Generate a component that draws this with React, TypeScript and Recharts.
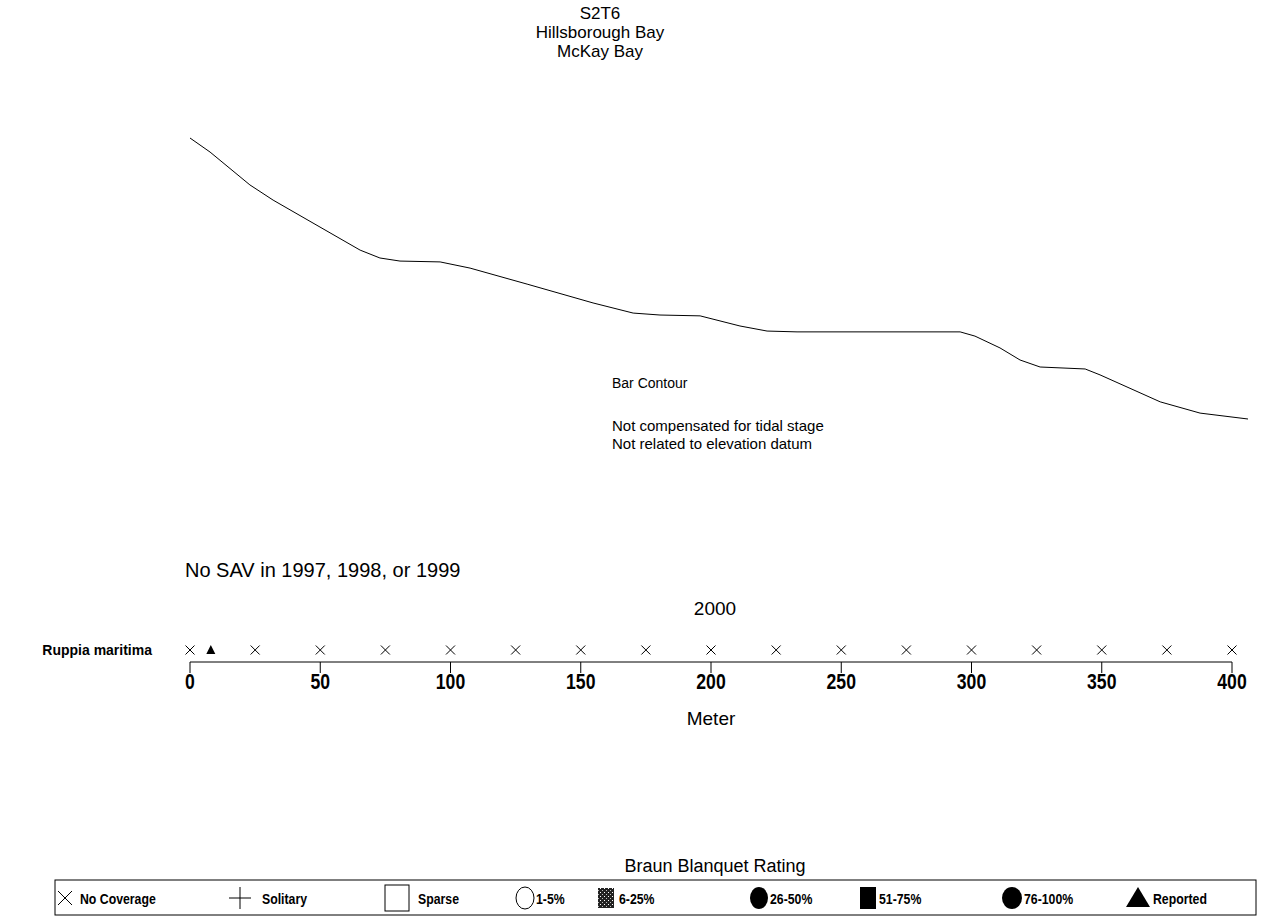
import React from 'react'
import { LineChart, Line, XAxis, YAxis, ScatterChart, Scatter } from 'recharts'

const FONT = '"Liberation Sans", Arial, Helvetica, sans-serif'

// Bar contour profile: distance along transect (m) and relative elevation
const CONTOUR_DIST = [0, 7.7, 23, 31.9, 49.9, 65.3, 72.9, 80.6, 96, 107.5, 129.4, 154.7, 170.1, 180.4, 195.8, 211.1, 221.5, 233, 295.6, 301.3, 310.9, 318.6, 326.3, 343.6, 349.3, 372.4, 387.7, 406.1]
const CONTOUR_ELEV = [0, -5, -16.7, -22.1, -31.7, -39.9, -42.7, -43.8, -44.1, -46.3, -52, -58.7, -62.3, -63, -63.3, -66.9, -68.7, -69, -69, -70.5, -74.7, -79, -81.5, -82.2, -84.3, -93.9, -97.9, -100]

// 2000 survey, Ruppia maritima
const SPECIES = 'Ruppia maritima'
const NO_COVERAGE_DIST = [0, 25, 50, 75, 100, 125, 150, 175, 200, 225, 250, 275, 300, 325, 350, 375, 400]
const REPORTED_DIST = [8]
const METER_TICKS = [0, 50, 100, 150, 200, 250, 300, 350, 400]

const TITLE_LINES = ['S2T6', 'Hillsborough Bay', 'McKay Bay']
const NOTE_LINES = ['Not compensated for tidal stage', 'Not related to elevation datum']
const LEGEND_LABELS = ['No Coverage', 'Solitary', 'Sparse', '1-5%', '6-25%', '26-50%', '51-75%', '76-100%', 'Reported']

// species row sits in the middle of a 0..1 band
const ROW_Y = 0.5

const contourData = CONTOUR_DIST.map((d, i) => ({ dist: d, elev: CONTOUR_ELEV[i] }))
const noCoverageData = NO_COVERAGE_DIST.map((d) => ({ dist: d, row: ROW_Y }))
const reportedData = REPORTED_DIST.map((d) => ({ dist: d, row: ROW_Y }))

function CrossMark(props: any) {
  const { cx, cy } = props
  const s = 4.5
  return (
    <path
      d={`M${cx - s},${cy - s}L${cx + s},${cy + s}M${cx - s},${cy + s}L${cx + s},${cy - s}`}
      stroke="#000"
      strokeWidth={1}
      fill="none"
    />
  )
}

function TriangleMark(props: any) {
  const { cx, cy } = props
  return <path d={`M${cx},${cy - 5}L${cx + 4.5},${cy + 4}L${cx - 4.5},${cy + 4}Z`} fill="#000" />
}

// condensed bold numbers under the meter axis
function MeterTick(props: any) {
  const { x, y, payload } = props
  return (
    <g transform={`translate(${x},${y}) scale(0.8,1)`}>
      <text x={0} y={0} dy="0.71em" textAnchor="middle" fontSize={22} fontWeight="bold" fill="#000" fontFamily={FONT}>
        {payload.value}
      </text>
    </g>
  )
}

// legend symbol centre and label start, per item
const LEGEND_SYMBOL_X = [65, 240, 397, 525, 606, 759, 868, 1012, 1138]
const LEGEND_TEXT_X = [80, 262, 418, 536, 619, 770, 879, 1024, 1153]

function LegendSymbol({ index, x, y }: { index: number; x: number; y: number }) {
  switch (index) {
    case 0:
      return <path d={`M${x - 7},${y - 7}L${x + 7},${y + 7}M${x - 7},${y + 7}L${x + 7},${y - 7}`} stroke="#000" strokeWidth={1} />
    case 1:
      return <path d={`M${x - 11},${y}L${x + 11},${y}M${x},${y - 11}L${x},${y + 11}`} stroke="#000" strokeWidth={1} />
    case 2:
      return <rect x={x - 12} y={y - 13} width={24} height={26} fill="none" stroke="#000" strokeWidth={1} />
    case 3:
      return <ellipse cx={x} cy={y} rx={9} ry={11} fill="none" stroke="#000" strokeWidth={1} />
    case 4:
      return <rect x={x - 8} y={y - 10} width={16} height={20} fill="url(#stipple)" />
    case 5:
      return <ellipse cx={x} cy={y} rx={9} ry={11} fill="#000" />
    case 6:
      return <rect x={x - 8} y={y - 11} width={16} height={22} fill="#000" />
    case 7:
      return <ellipse cx={x} cy={y} rx={10} ry={11} fill="#000" />
    default:
      return <path d={`M${x},${y - 11}L${x + 12},${y + 9}L${x - 12},${y + 9}Z`} fill="#000" />
  }
}

function Annotations() {
  const legendY = 898
  return (
    <svg width={1265} height={924} style={{ position: 'absolute', left: 0, top: 0, pointerEvents: 'none' }} fontFamily={FONT}>
      <defs>
        <pattern id="stipple" width={4} height={4} patternUnits="userSpaceOnUse">
          <rect width={4} height={4} fill="#222" />
          <rect x={0} y={0} width={1} height={1} fill="#fff" />
          <rect x={2} y={2} width={1} height={1} fill="#bbb" />
        </pattern>
      </defs>
      {TITLE_LINES.map((t, i) => (
        <text key={t} x={600} y={19 + i * 19} fontSize={17} textAnchor="middle" fill="#000">{t}</text>
      ))}
      <text x={612} y={388} fontSize={14} fill="#000">Bar Contour</text>
      {NOTE_LINES.map((t, i) => (
        <text key={t} x={612} y={431 + i * 18} fontSize={15} fill="#000">{t}</text>
      ))}
      <text x={185} y={577} fontSize={20} fill="#000">No SAV in 1997, 1998, or 1999</text>
      <text x={715} y={615} fontSize={19} textAnchor="middle" fill="#000">2000</text>

      <text x={715} y={872} fontSize={18} textAnchor="middle" fill="#000">Braun Blanquet Rating</text>
      <rect x={55} y={880} width={1201} height={35} fill="none" stroke="#000" strokeWidth={1} />
      {LEGEND_LABELS.map((label, i) => (
        <g key={label}>
          <LegendSymbol index={i} x={LEGEND_SYMBOL_X[i]} y={legendY} />
          <g transform={`translate(${LEGEND_TEXT_X[i]},${legendY + 6}) scale(0.82,1)`}>
            <text x={0} y={0} fontSize={15} fontWeight="bold" fill="#000">{label}</text>
          </g>
        </g>
      ))}
    </svg>
  )
}

export default function App() {
  return (
    <div style={{ position: 'absolute', left: 0, top: 0, width: 1265, height: 924, background: '#fff', fontFamily: FONT }}>
      <LineChart
        width={1265}
        height={450}
        data={contourData}
        margin={{ top: 138, right: 17, bottom: 31, left: 190 }}
        style={{ position: 'absolute', left: 0, top: 0 }}
      >
        <XAxis type="number" dataKey="dist" domain={[0, 'dataMax']} hide />
        <YAxis type="number" domain={[-100, 0]} hide />
        <Line type="linear" dataKey="elev" stroke="#000" strokeWidth={1} dot={false} isAnimationActive={false} />
      </LineChart>

      <ScatterChart
        width={1265}
        height={924}
        margin={{ top: 638, right: 33, bottom: 212, left: 10 }}
        style={{ position: 'absolute', left: 0, top: 0 }}
      >
        <XAxis
          type="number"
          dataKey="dist"
          domain={[0, 400]}
          ticks={METER_TICKS}
          interval={0}
          tickSize={11}
          tickMargin={0}
          height={50}
          stroke="#000"
          tick={MeterTick}
          label={{ value: 'Meter', position: 'bottom', offset: 0, fontSize: 19, fill: '#000', fontFamily: FONT }}
        />
        <YAxis
          type="number"
          dataKey="row"
          domain={[0, 1]}
          ticks={[ROW_Y]}
          tickFormatter={() => SPECIES}
          width={180}
          axisLine={false}
          tickLine={false}
          tickSize={0}
          tickMargin={38}
          tick={{ fontSize: 14, fontWeight: 'bold', fill: '#000', fontFamily: FONT }}
        />
        <Scatter data={noCoverageData} shape={CrossMark} isAnimationActive={false} />
        <Scatter data={reportedData} shape={TriangleMark} isAnimationActive={false} />
      </ScatterChart>

      <Annotations />
    </div>
  )
}
